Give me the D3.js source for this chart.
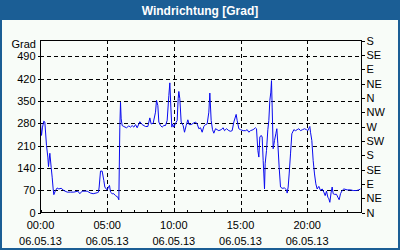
<!DOCTYPE html>
<html><head><meta charset="utf-8">
<script src="https://cdn.jsdelivr.net/npm/d3@7"></script>
<style>
html,body{margin:0;padding:0;background:#fff;}
svg{display:block;}
text{font-family:"Liberation Sans",Arial,sans-serif;}
</style></head>
<body>
<svg id="c" width="400" height="250"></svg>
<script>
const title = "Windrichtung [Grad]";
const yUnit = "Grad";
const leftTicks = [0,70,140,210,280,350,420,490];
const rightTickValues = [0,45,90,135,180,225,270,315,360,405,450,495,540];
const rightTickLabels = ["N","NE","E","SE","S","SW","W","NW","N","NE","E","SE","S"];
const xMajorHours = [0,5,10,15,20];
const xTimeLabels = ["00:00","05:00","10:00","15:00","20:00"];
const xDateLabel = "06.05.13";
const hours = [0,0.075,0.15,0.25,0.325,0.45,0.55,0.6,0.7,0.8,0.875,0.95,1.0,1.125,1.25,1.375,1.55,1.75,2.0,2.25,2.5,2.8,2.95,3.125,3.5,3.75,3.95,4.25,4.35,4.4,4.5,4.625,4.75,4.825,4.925,5.0,5.1,5.175,5.25,5.375,5.5,5.625,5.8,5.875,5.95,6.0,6.05,6.125,6.25,6.45,6.625,6.75,6.875,7.0,7.125,7.25,7.45,7.625,7.875,8.05,8.2,8.3,8.45,8.625,8.7,8.8,8.875,9.0,9.125,9.25,9.375,9.5,9.625,9.7,9.775,9.85,9.9,10.0,10.125,10.25,10.325,10.375,10.45,10.55,10.7,10.8,10.925,11.05,11.15,11.3,11.45,11.625,11.75,11.875,12.0,
12.125,12.25,12.375,12.5,12.625,12.7,12.8,12.9,13.0,13.125,13.25,13.375,13.55,13.7,13.8,13.95,14.125,14.25,14.375,14.5,14.675,14.75,14.875,15.0,15.2,15.375,15.5,15.625,15.75,15.95,16.125,16.2,16.3,16.375,16.45,16.55,16.625,16.7,16.75,16.8,16.85,16.95,17.05,17.125,17.2,17.275,17.325,17.375,17.45,17.55,17.65,17.725,17.8,17.9,18.0,18.125,18.3,18.45,18.5,18.575,18.65,18.75,18.85,19.0,19.125,19.25,19.375,19.5,19.65,19.8,19.95,20.05,20.15,20.2,20.25,20.35,20.45,20.55,20.65,20.75,20.875,21.0,21.125,21.25,21.35,21.45,21.55,21.625,21.7,21.8,21.875,21.95,22.05,22.2,22.3,22.4,22.5,22.625,22.75,23.0,23.25,23.45,23.7,23.875,24.0];
const direction = [280,242,268,287,284,210,174,144,186,142,111,74,56,69,77,74,76,69,64,64,64,67,59,67,67,61,59,62,64,80,130,130,100,80,74,71,80,85,64,59,59,53,48,40,268,346,294,273,270,266,272,268,273,268,276,266,285,276,270,270,297,278,280,315,352,336,284,273,268,273,273,289,367,407,331,268,278,268,280,289,357,380,357,284,273,252,273,291,276,276,280,284,278,263,266,
252,270,276,278,315,375,289,260,249,263,260,257,260,266,257,263,257,255,257,284,308,289,263,260,257,257,260,252,257,260,266,263,195,174,237,242,237,163,121,74,153,195,260,289,352,378,414,331,200,226,247,263,216,142,80,76,77,71,61,80,121,184,247,260,257,260,263,257,260,263,260,257,266,270,252,226,163,121,90,74,82,69,74,64,53,67,48,43,32,64,80,59,57,57,48,40,59,69,74,71,71,69,69,71,74];

const svg = d3.select("#c");
const W = 400, H = 250;
const m = {left:40, right:361, top:40, bottom:212};

// background & frame
svg.append("rect").attr("x",0).attr("y",0).attr("width",W).attr("height",H).attr("fill","#1b5e95");
svg.append("rect").attr("x",2).attr("y",20).attr("width",W-4).attr("height",H-22).attr("fill","#f8fcf8");
svg.append("text").attr("x",W/2).attr("y",14.5).attr("text-anchor","middle")
  .attr("fill","#ffffff").attr("font-weight","bold").attr("font-size","12px").text(title);

const x = d3.scaleLinear().domain([0,24]).range([m.left+0.5, m.right-0.5]);
const y = d3.scaleLinear().domain([0,540]).range([m.bottom+0.5, m.top+0.5]);

// gridlines
const g = svg.append("g");
g.selectAll(".hg").data(leftTicks.filter(d=>d>0)).join("line")
  .attr("x1",m.left).attr("x2",m.right).attr("y1",d=>Math.round(y(d))+0.5).attr("y2",d=>Math.round(y(d))+0.5)
  .attr("stroke","#000").attr("stroke-dasharray","4,3").attr("shape-rendering","crispEdges");
g.selectAll(".vg").data(xMajorHours.filter(d=>d>0)).join("line")
  .attr("y1",m.top).attr("y2",m.bottom).attr("x1",d=>Math.round(x(d))+0.5).attr("x2",d=>Math.round(x(d))+0.5)
  .attr("stroke","#000").attr("stroke-dasharray","4,3").attr("shape-rendering","crispEdges");

// line
const line = d3.line().x((d,i)=>x(hours[i])).y(d=>y(d));
svg.append("path").datum(direction).attr("d",line).attr("fill","none")
  .attr("stroke","#0a0af0").attr("stroke-width",1);

// frame
svg.append("rect").attr("x",m.left+0.5).attr("y",m.top+0.5).attr("width",m.right-m.left).attr("height",m.bottom-m.top)
  .attr("fill","none").attr("stroke","#000").attr("shape-rendering","crispEdges");

// left axis
const ly = d3.axisLeft(y).tickValues(leftTicks).tickSize(3).tickPadding(2);
const lg = svg.append("g").attr("transform",`translate(${m.left+0.5},0)`).call(ly);
lg.select(".domain").remove();
lg.selectAll("text").attr("font-size","11px").attr("fill","#000").attr("font-family","Liberation Sans, Arial, sans-serif");
lg.selectAll("line").attr("stroke","#000").attr("shape-rendering","crispEdges");
svg.append("text").attr("x",36).attr("y",47.5).attr("text-anchor","end").attr("font-size","11px").text(yUnit);

// right axis
const ry = d3.axisRight(y).tickValues(rightTickValues).tickFormat((d,i)=>rightTickLabels[i]).tickSize(3).tickPadding(2);
const rg = svg.append("g").attr("transform",`translate(${m.right+0.5},0)`).call(ry);
rg.select(".domain").remove();
rg.selectAll("text").attr("font-size","11px").attr("fill","#000").attr("font-family","Liberation Sans, Arial, sans-serif");
rg.selectAll("line").attr("stroke","#000").attr("shape-rendering","crispEdges");

// bottom axis: hourly ticks inside
const bx = d3.axisBottom(x).tickValues(d3.range(0,25)).tickSize(-3).tickFormat("");
const bg = svg.append("g").attr("transform",`translate(0,${m.bottom+0.5})`).call(bx);
bg.select(".domain").remove();
bg.selectAll("line").attr("stroke","#000").attr("shape-rendering","crispEdges");

// bottom labels
const lab = svg.append("g");
lab.selectAll(".t1").data(xMajorHours).join("text")
  .attr("x",d=>x(d)).attr("y",229).attr("text-anchor","middle").attr("font-size","11px")
  .text((d,i)=>xTimeLabels[i]);
lab.selectAll(".t2").data(xMajorHours).join("text")
  .attr("x",d=>x(d)).attr("y",245).attr("text-anchor","middle").attr("font-size","11px")
  .text(xDateLabel);
</script>
</body></html>
